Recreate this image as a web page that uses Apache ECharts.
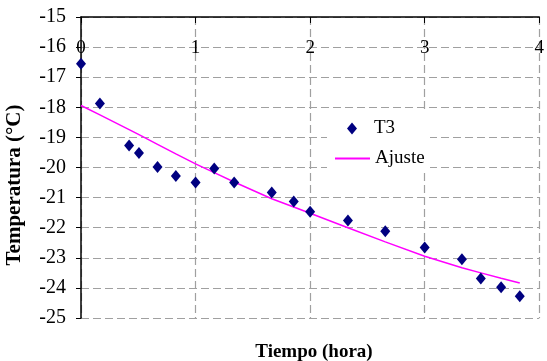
<!DOCTYPE html>
<html lang="es">
<head>
    <meta charset="UTF-8">
    <title>T3 - Ajuste</title>
    <script src="https://cdn.jsdelivr.net/npm/echarts@6/dist/echarts.min.js"></script>
    <style>
        body{
            margin: 0;
            background: #fff;
        }
        #chart{
            width: 547px;
            height: 361px;
        }
    </style>
</head>
<body>
    <div id="chart"></div>
    <script>
        // tiempo (hora) de cada medida
        var tiempo = [0, 0.165, 0.42, 0.506, 0.668, 0.828, 1.0, 1.163, 1.337, 1.665,
                      1.857, 2.0, 2.33, 2.656, 3.0, 3.325, 3.49, 3.667, 3.83];
        // temperatura medida T3 (°C)
        var t3 = [-16.55, -17.87, -19.27, -19.52, -19.98, -20.28, -20.5, -20.03, -20.5, -20.83,
                  -21.13, -21.47, -21.76, -22.12, -22.66, -23.05, -23.69, -23.98, -24.28];
        // curva de ajuste en los mismos tiempos
        var ajuste = [-17.94, -18.25, -18.74, -18.91, -19.23, -19.55, -19.88, -20.17, -20.48, -21.04,
                      -21.31, -21.52, -22.0, -22.47, -22.95, -23.33, -23.5, -23.68, -23.84];

        var font = 'Liberation Serif';

        var puntos = [], curva = [];
        for (let i = 0; i < tiempo.length; i++) {
            puntos.push([tiempo[i], t3[i]]);
            curva.push([tiempo[i], ajuste[i]]);
        }

        var myChart = echarts.init(document.getElementById('chart'));
        var option = {
            animation: false,
            backgroundColor: '#fff',
            textStyle: { fontFamily: font },
            grid: {
                left: 81,
                top: 17,
                width: 467,
                height: 301
            },
            legend: [
                {
                    left: 347,
                    top: 119,
                    padding: 0,
                    itemWidth: 10,
                    itemHeight: 12,
                    textStyle: { fontFamily: font, fontSize: 19, color: '#000', padding: [0, 0, 0, 12] },
                    data: [{ name: 'T3', icon: 'diamond' }]
                },
                {
                    left: 335,
                    top: 149,
                    padding: 0,
                    itemWidth: 35,
                    itemHeight: 2,
                    textStyle: { fontFamily: font, fontSize: 19, color: '#000' },
                    data: [{ name: 'Ajuste', icon: 'rect' }]
                }
            ],
            xAxis: {
                type: 'value',
                position: 'top',
                min: 0,
                max: 4,
                interval: 1,
                axisLine: { onZero: false, lineStyle: { color: '#000', width: 1.5 } },
                axisTick: { inside: true, length: 6, lineStyle: { color: '#000' } },
                axisLabel: {
                    inside: true,
                    margin: 22,
                    fontFamily: font,
                    fontSize: 19,
                    color: '#000'
                },
                splitLine: { show: true, lineStyle: { color: '#a0a0a0', type: [8, 4], width: 1.2 } }
            },
            yAxis: {
                type: 'value',
                min: -25,
                max: -15,
                interval: 1,
                axisLine: { show: true, onZero: false, lineStyle: { color: '#000', width: 1.5 } },
                axisTick: { show: true, length: 5, lineStyle: { color: '#000' } },
                axisLabel: {
                    margin: 15,
                    fontFamily: font,
                    fontSize: 20,
                    color: '#000'
                },
                splitLine: { show: true, lineStyle: { color: '#a0a0a0', type: [8, 4], width: 1.2 } }
            },
            graphic: [
                {
                    type: 'rect',
                    z: 1,
                    shape: { x: 327, y: 112, width: 103, height: 60 },
                    style: { fill: '#fff' }
                },
                {
                    type: 'text',
                    x: 15,
                    y: 185,
                    rotation: Math.PI / 2,
                    style: {
                        text: 'Temperatura (°C)',
                        font: 'bold 21px ' + font,
                        fill: '#000',
                        align: 'center',
                        verticalAlign: 'middle'
                    }
                },
                {
                    type: 'text',
                    x: 314,
                    y: 352,
                    style: {
                        text: 'Tiempo (hora)',
                        font: 'bold 19px ' + font,
                        fill: '#000',
                        align: 'center',
                        verticalAlign: 'middle'
                    }
                }
            ],
            series: [
                {
                    name: 'T3',
                    type: 'scatter',
                    symbol: 'diamond',
                    symbolSize: [10, 12],
                    itemStyle: { color: '#000080', opacity: 1 },
                    data: puntos,
                    z: 3
                },
                {
                    name: 'Ajuste',
                    type: 'line',
                    symbol: 'none',
                    lineStyle: { color: '#ff00ff', width: 1.5 },
                    itemStyle: { color: '#ff00ff' },
                    data: curva,
                    z: 2
                }
            ]
        };
        myChart.setOption(option);
    </script>
</body>
</html>
